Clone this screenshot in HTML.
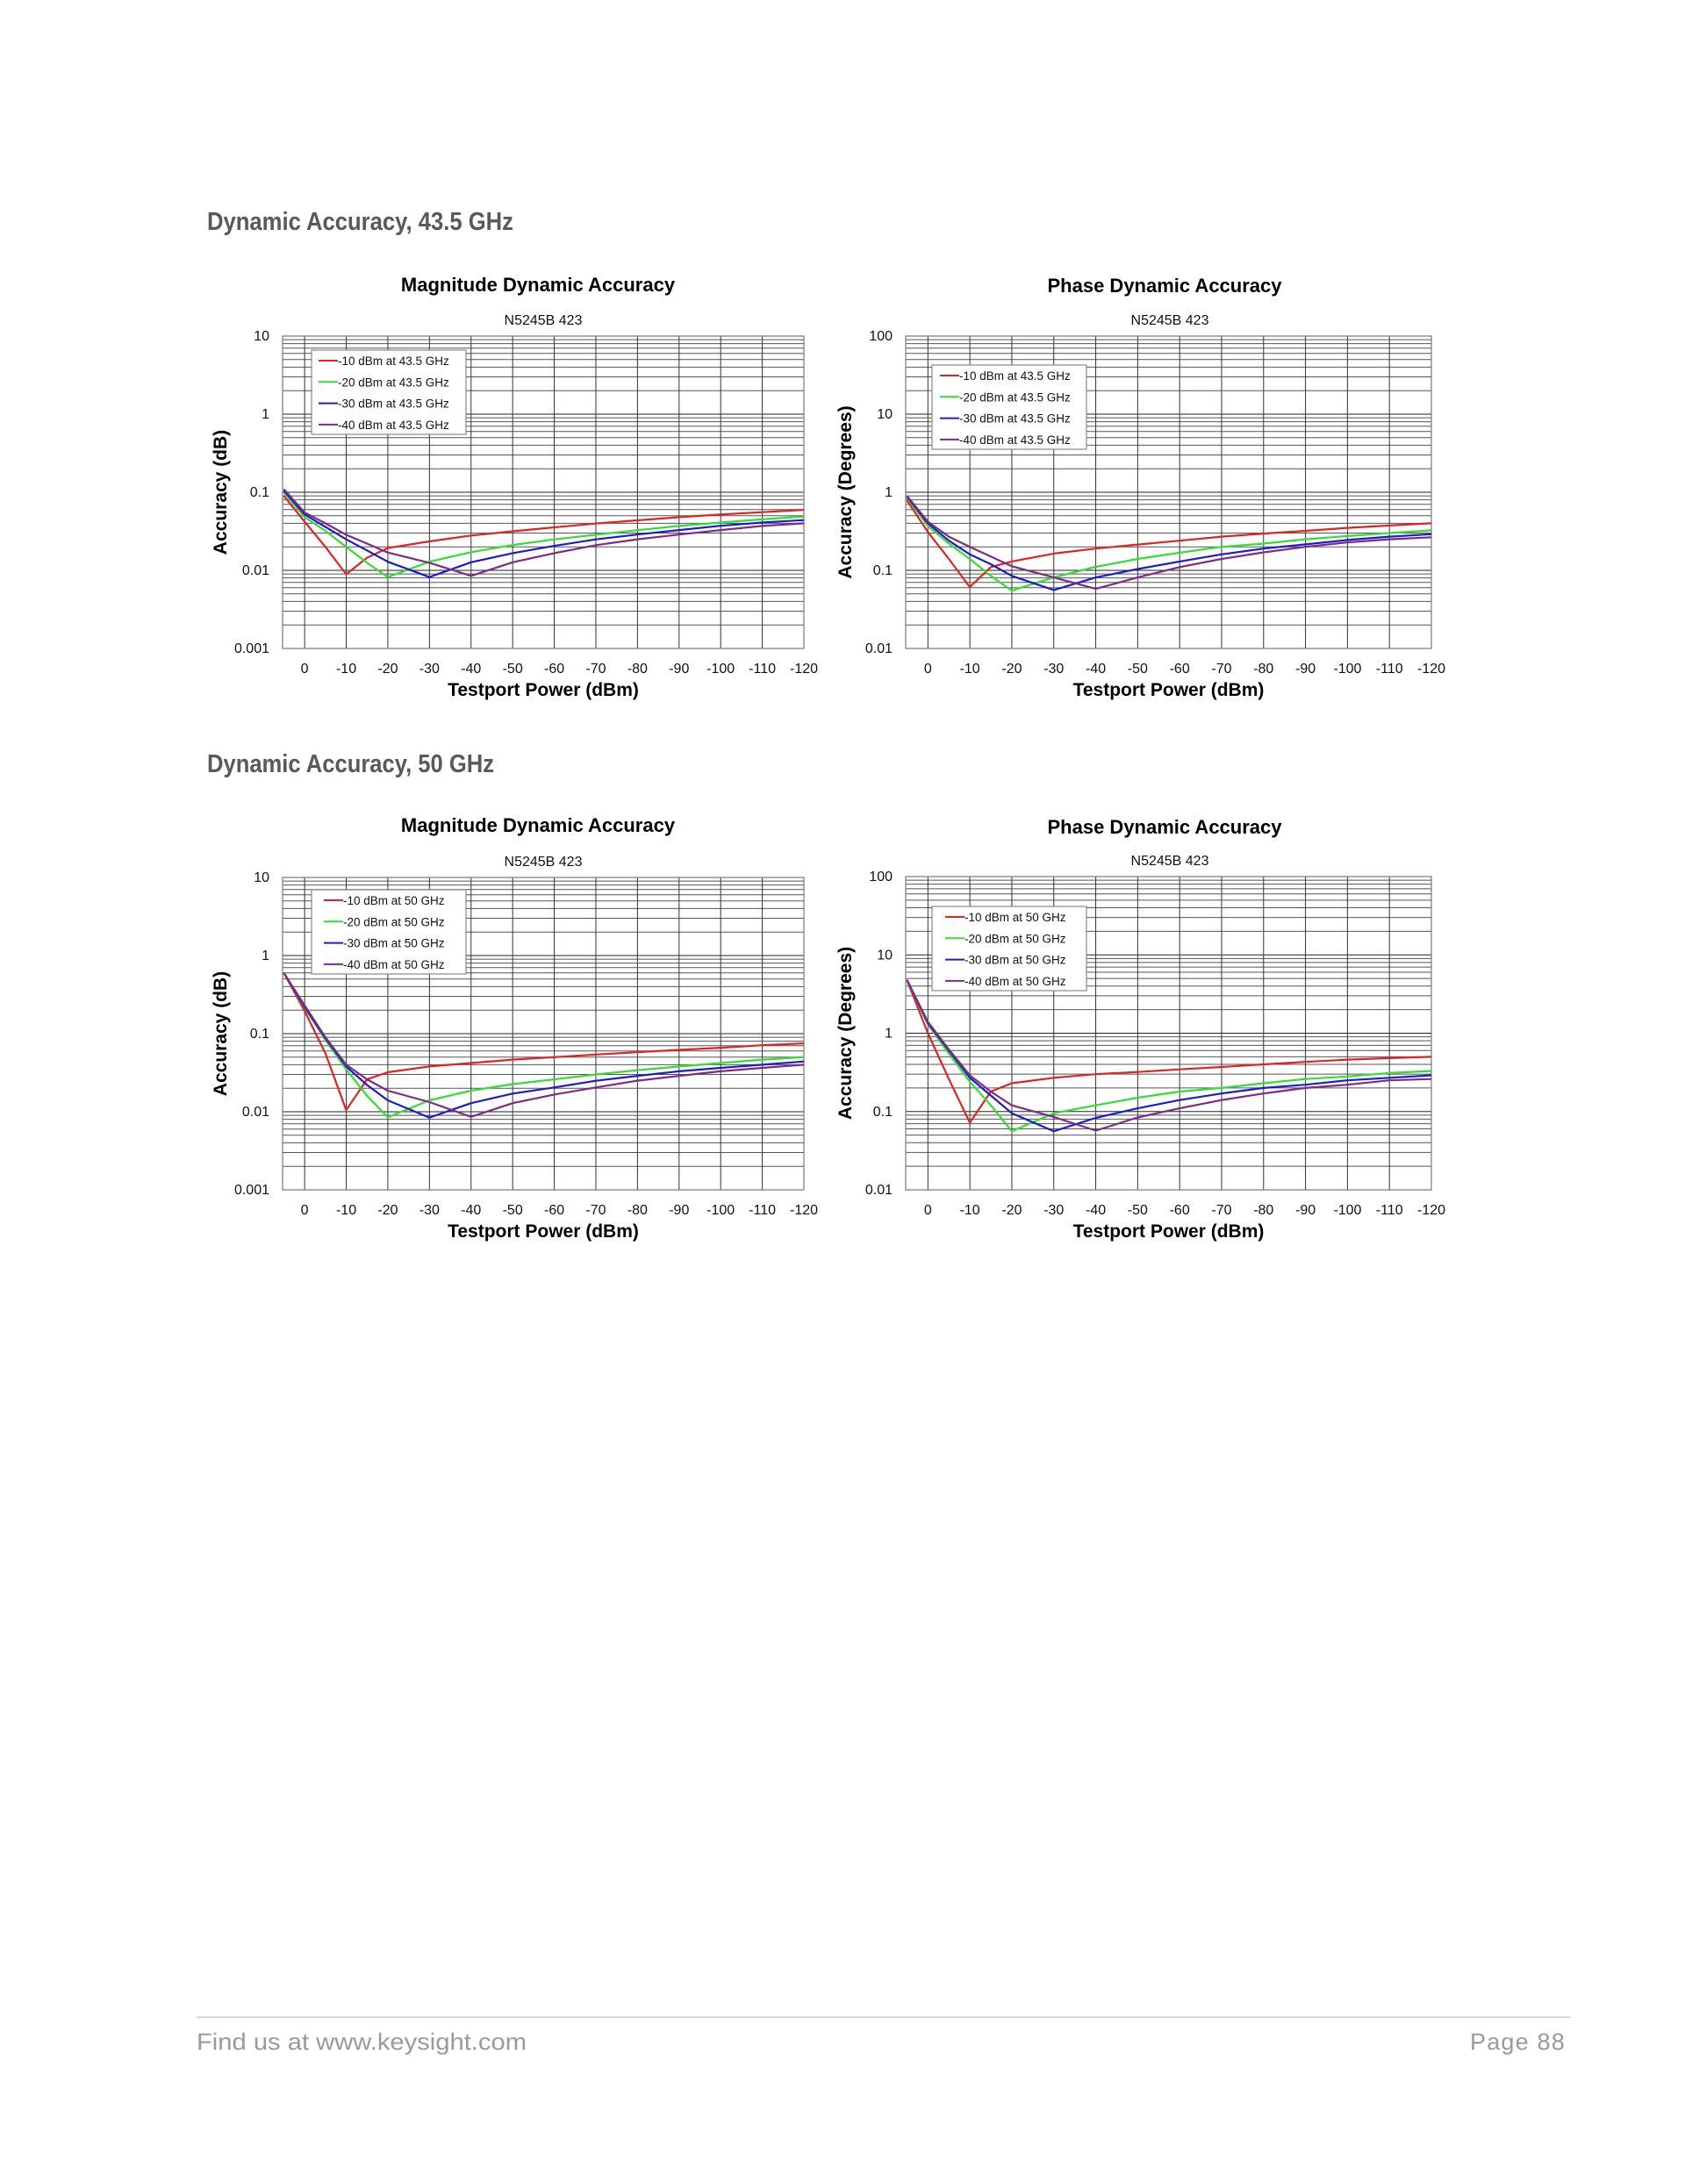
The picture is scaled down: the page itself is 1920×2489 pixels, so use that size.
<!DOCTYPE html>
<html><head><meta charset="utf-8"><style>
html,body{margin:0;padding:0;background:#fff;}
svg text{font-family:"Liberation Sans",Arial,sans-serif;}
</style></head><body>
<svg id="page" width="1920" height="2484" viewBox="0 0 1920 2484" xmlns="http://www.w3.org/2000/svg">
<text x="236" y="262" font-size="29" font-weight="bold" fill="#595959" textLength="349" lengthAdjust="spacingAndGlyphs">Dynamic Accuracy, 43.5 GHz</text>
<text x="236" y="880" font-size="29" font-weight="bold" fill="#595959" textLength="327" lengthAdjust="spacingAndGlyphs">Dynamic Accuracy, 50 GHz</text>
<line x1="224" y1="2299" x2="1790" y2="2299" stroke="#cccccc" stroke-width="1.5"/>
<text x="224" y="2336" font-size="27" fill="#9a9a9a" textLength="376" lengthAdjust="spacingAndGlyphs">Find us at www.keysight.com</text>
<text x="1784" y="2336" font-size="27" fill="#9a9a9a" letter-spacing="1.2" text-anchor="end">Page 88</text>
<g id="charts"></g>
</svg>
<script>
const xs = [5,0,-5,-10,-15,-20,-30,-40,-50,-60,-70,-80,-90,-100,-110,-120];
const xTicks = [0,-10,-20,-30,-40,-50,-60,-70,-80,-90,-100,-110,-120];
const magYTicks = [0.001,0.01,0.1,1,10];
const magYLabels = ["0.001","0.01","0.1","1","10"];
const phaseYTicks = [0.01,0.1,1,10,100];
const phaseYLabels = ["0.01","0.1","1","10","100"];
const seriesNames = ["-10 dBm","-20 dBm","-30 dBm","-40 dBm"];

const mag43Red    = [0.09,0.042,0.02,0.0089,0.0145,0.0193,0.0235,0.0279,0.0316,0.0355,0.0398,0.0437,0.048,0.0519,0.0556,0.0594];
const mag43Green  = [0.1,0.048,0.032,0.02,0.0125,0.0082,0.0129,0.0171,0.0211,0.0249,0.0286,0.0327,0.037,0.041,0.045,0.049];
const mag43Blue   = [0.105,0.052,0.036,0.0249,0.018,0.0129,0.0082,0.0127,0.0166,0.0206,0.0249,0.0287,0.0328,0.0372,0.041,0.044];
const mag43Purple = [0.11,0.055,0.04,0.0285,0.022,0.0169,0.0125,0.0085,0.0127,0.0166,0.021,0.025,0.0287,0.0328,0.037,0.040];

const ph43Red    = [0.79,0.31,0.14,0.061,0.11,0.13,0.164,0.19,0.214,0.24,0.27,0.296,0.32,0.35,0.375,0.40];
const ph43Green  = [0.85,0.37,0.22,0.14,0.085,0.055,0.081,0.111,0.14,0.168,0.2,0.22,0.25,0.275,0.3,0.325];
const ph43Blue   = [0.88,0.4,0.24,0.16,0.12,0.085,0.056,0.081,0.104,0.13,0.16,0.19,0.215,0.245,0.27,0.29];
const ph43Purple = [0.9,0.42,0.27,0.2,0.15,0.113,0.081,0.058,0.081,0.11,0.14,0.17,0.2,0.228,0.25,0.265];

const mag50Red    = [0.6,0.195,0.056,0.0105,0.026,0.032,0.038,0.042,0.0465,0.05,0.054,0.058,0.062,0.066,0.071,0.075];
const mag50Green  = [0.6,0.215,0.083,0.035,0.016,0.0085,0.014,0.0186,0.0226,0.026,0.03,0.034,0.038,0.042,0.0465,0.05];
const mag50Blue   = [0.6,0.22,0.087,0.038,0.022,0.014,0.0084,0.0129,0.0171,0.0205,0.0249,0.0288,0.033,0.0365,0.04,0.044];
const mag50Purple = [0.6,0.23,0.09,0.04,0.026,0.0186,0.0133,0.0086,0.0129,0.0166,0.0205,0.025,0.0288,0.033,0.0365,0.04];

const ph50Red    = [4.8,1.0,0.26,0.072,0.18,0.23,0.27,0.30,0.32,0.345,0.37,0.40,0.43,0.46,0.48,0.5];
const ph50Green  = [4.8,1.3,0.55,0.24,0.12,0.056,0.095,0.12,0.15,0.18,0.2,0.23,0.26,0.28,0.31,0.33];
const ph50Blue   = [4.8,1.35,0.6,0.27,0.16,0.095,0.056,0.083,0.11,0.14,0.17,0.2,0.22,0.25,0.27,0.29];
const ph50Purple = [4.8,1.4,0.62,0.29,0.18,0.12,0.085,0.057,0.084,0.11,0.14,0.17,0.2,0.22,0.25,0.26];

const colors = ["#e02424","#33dd33","#1c1ccc","#802a86"];
const NS = "http://www.w3.org/2000/svg";
const root = document.getElementById('charts');

function mk(tag, attrs, parent){ const e=document.createElementNS(NS,tag); for(const k in attrs) e.setAttribute(k,attrs[k]); parent.appendChild(e); return e; }

function chart(cfg){
  const g = mk('g',{},root);
  
  
  const L=cfg.l,R=cfg.r,T=cfg.t,B=cfg.b;
  const lo=Math.log10(cfg.yMin), hi=Math.log10(cfg.yMax);
  const xp = x => L + (5.3 - x)/125.3*(R-L);
  const yp = v => B - (Math.log10(v)-lo)/(hi-lo)*(B-T);
  for(let d=lo; d<hi; d++){
    for(let m=1;m<=9;m++){
      const v=m*Math.pow(10,d); const y=yp(v);
      const ln=mk('line',{x1:L,x2:R,y1:y,y2:y,stroke:m===1?'#222':'#555','stroke-width':1},g);
      
      
    }
  }
  xTicks.forEach(x=>{
    const ln=mk('line',{x1:xp(x),x2:xp(x),y1:T,y2:B,stroke:'#333','stroke-width':1},g);
    
    
    const t=mk('text',{x:xp(x),y:B+28,'font-size':16,'text-anchor':'middle',fill:'#111'},g);
    t.textContent=String(x);
    
    
  });
  const fr=mk('rect',{x:L,y:T,width:R-L,height:B-T,fill:'none',stroke:'#777','stroke-width':1.2},g);
  
  
  cfg.yTicks.forEach((v,i)=>{
    const t=mk('text',{x:L-15,y:yp(v)+5,'font-size':16,'text-anchor':'end',fill:'#111'},g);
    t.textContent=cfg.yLabels[i];
    
    
  });
  cfg.series.forEach((s,i)=>{
    const pts=xs.map((x,j)=>xp(x).toFixed(1)+','+yp(s[j]).toFixed(1)).join(' ');
    const p=mk('polyline',{points:pts,fill:'none',stroke:colors[i],'stroke-width':2.2,'stroke-linejoin':'round'},g);
    
    
  });
  const lg=cfg.leg;
  const lr=mk('rect',{x:lg.x,y:lg.y,width:176,height:96,fill:'#fff',stroke:'#888','stroke-width':1.2},g);
  
  
  seriesNames.forEach((n,i)=>{
    const yy=lg.y+12+i*24.3;
    const ll=mk('line',{x1:lg.lx1,x2:lg.lx2,y1:yy,y2:yy,stroke:colors[i],'stroke-width':2},g);
    
    
    const t=mk('text',{x:lg.lx2,y:yy+5,'font-size':13.5,fill:'#111'},g);
    t.textContent=n+' at '+cfg.freq;
    
    
  });
  const ti=mk('text',{x:cfg.tx,y:cfg.ty,'font-size':22,'font-weight':'bold','text-anchor':'middle',fill:'#000'},g);
  ti.textContent=cfg.title;
  
  
  const st=mk('text',{x:cfg.tx+6,y:cfg.sy,'font-size':16,'text-anchor':'middle',fill:'#111'},g);
  st.textContent='N5245B 423';
  
  
  const xt=mk('text',{x:(L+R)/2,y:B+54,'font-size':21,'font-weight':'bold','text-anchor':'middle',fill:'#000'},g);
  xt.textContent='Testport Power (dBm)';
  
  
  const yc=(T+B)/2;
  const yt=mk('text',{x:cfg.yx,y:yc,'font-size':21,'font-weight':'bold','text-anchor':'middle',fill:'#000',transform:`rotate(-90 ${cfg.yx} ${yc})`},g);
  yt.textContent=cfg.ytitle;
  
  
}

chart({name:'magnitude-chart-43-5ghz',l:322,r:916,t:383,b:739,yMin:0.001,yMax:10,yTicks:magYTicks,yLabels:magYLabels,
  series:[mag43Red,mag43Green,mag43Blue,mag43Purple],freq:'43.5 GHz',
  leg:{x:355,y:399,lx1:363,lx2:385},title:'Magnitude Dynamic Accuracy',tx:613,ty:332,sy:370,yx:258,ytitle:'Accuracy (dB)'});
chart({name:'phase-chart-43-5ghz',l:1032,r:1631,t:383,b:739,yMin:0.01,yMax:100,yTicks:phaseYTicks,yLabels:phaseYLabels,
  series:[ph43Red,ph43Green,ph43Blue,ph43Purple],freq:'43.5 GHz',
  leg:{x:1062,y:416,lx1:1071,lx2:1093},title:'Phase Dynamic Accuracy',tx:1327,ty:333,sy:370,yx:970,ytitle:'Accuracy (Degrees)'});
chart({name:'magnitude-chart-50ghz',l:322,r:916,t:1000,b:1356,yMin:0.001,yMax:10,yTicks:magYTicks,yLabels:magYLabels,
  series:[mag50Red,mag50Green,mag50Blue,mag50Purple],freq:'50 GHz',
  leg:{x:355,y:1014,lx1:369,lx2:391},title:'Magnitude Dynamic Accuracy',tx:613,ty:948,sy:987,yx:258,ytitle:'Accuracy (dB)'});
chart({name:'phase-chart-50ghz',l:1032,r:1631,t:999,b:1356,yMin:0.01,yMax:100,yTicks:phaseYTicks,yLabels:phaseYLabels,
  series:[ph50Red,ph50Green,ph50Blue,ph50Purple],freq:'50 GHz',
  leg:{x:1062,y:1033,lx1:1077,lx2:1099},title:'Phase Dynamic Accuracy',tx:1327,ty:950,sy:986,yx:970,ytitle:'Accuracy (Degrees)'});
</script>
</body></html>
